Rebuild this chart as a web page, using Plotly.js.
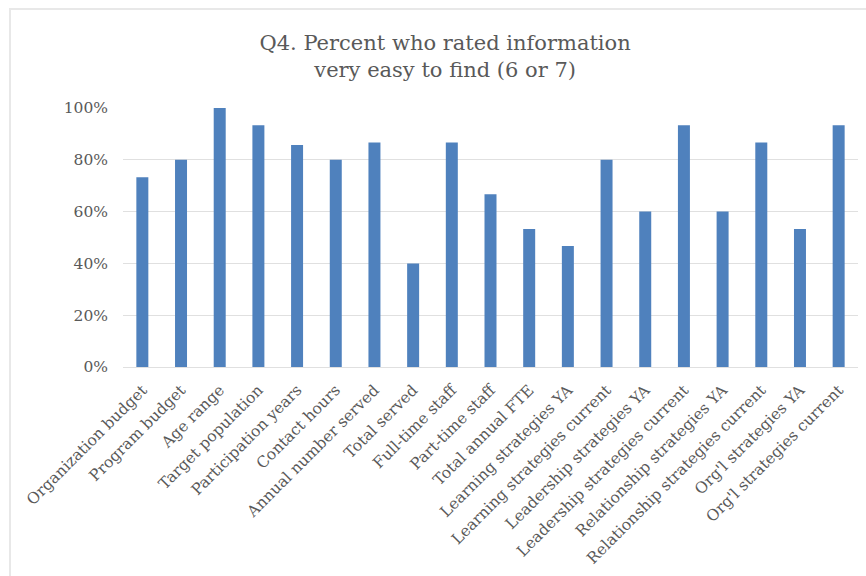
<!DOCTYPE html>
<html>
<head>
<meta charset="utf-8">
<script src="https://cdn.plot.ly/plotly-3.0.1.min.js"></script>
<style>
  html, body { margin: 0; padding: 0; background: #ffffff; }
  #frame {
    position: absolute; left: 9px; top: 8px; width: 870px; height: 580px;
    border-top: 2px solid #e8e8e8; border-left: 2px solid #e8e8e8;
    pointer-events: none; z-index: 5;
  }
  #chart { width: 866px; height: 576px; }
</style>
</head>
<body>
<div id="frame"></div>
<div id="chart"></div>
<script>
// Items asked about in Q4
const categories = [
  "Organization budget", "Program budget", "Age range", "Target population",
  "Participation years", "Contact hours", "Annual number served", "Total served",
  "Full-time staff", "Part-time staff", "Total annual FTE", "Learning strategies YA",
  "Learning strategies current", "Leadership strategies YA", "Leadership strategies current",
  "Relationship strategies YA", "Relationship strategies current", "Org'l strategies YA",
  "Org'l strategies current"
];

// Share of respondents rating the item 6 or 7 (fraction)
const percentEasy = [
  0.733, 0.800, 1.000, 0.933,
  0.857, 0.800, 0.867, 0.400,
  0.867, 0.667, 0.533, 0.467,
  0.800, 0.600, 0.933,
  0.600, 0.867, 0.533,
  0.933
];

const yTickValues = [0, 0.2, 0.4, 0.6, 0.8, 1.0];
const yTickLabels = ["0%", "20%", "40%", "60%", "80%", "100%"];

const textFont = "DejaVu Serif, serif";

const trace = {
  type: "bar",
  x: categories,
  y: percentEasy,
  marker: { color: "#4f81bd" },
  hoverinfo: "x+y"
};

const layout = {
  width: 866,
  height: 576,
  margin: { l: 123, r: 8, t: 108, b: 209 },
  paper_bgcolor: "#ffffff",
  plot_bgcolor: "#ffffff",
  bargap: 0.69,
  showlegend: false,
  title: {
    text: "Q4. Percent who rated information<br>very easy to find (6 or 7)",
    font: { family: textFont, size: 21, color: "#595959" },
    x: 0.514, xanchor: "center", xref: "container",
    y: 0.913, yanchor: "top", yref: "container"
  },
  xaxis: {
    type: "category",
    tickangle: -45,
    tickfont: { family: textFont, size: 15.5, color: "#595959" },
    showgrid: false,
    showline: false,
    ticks: "",
    zeroline: false,
    ticklabelstandoff: 10
  },
  yaxis: {
    range: [0, 1.0],
    tickvals: yTickValues,
    ticktext: yTickLabels,
    tickfont: { family: textFont, size: 15.5, color: "#595959" },
    showgrid: true,
    gridcolor: "#e0e0e0",
    gridwidth: 1,
    zeroline: true,
    zerolinecolor: "#e0e0e0",
    zerolinewidth: 1,
    showline: false,
    ticks: "",
    ticklabelstandoff: 14
  }
};

Plotly.newPlot("chart", [trace], layout, { displayModeBar: false, staticPlot: true });
</script>
</body>
</html>
